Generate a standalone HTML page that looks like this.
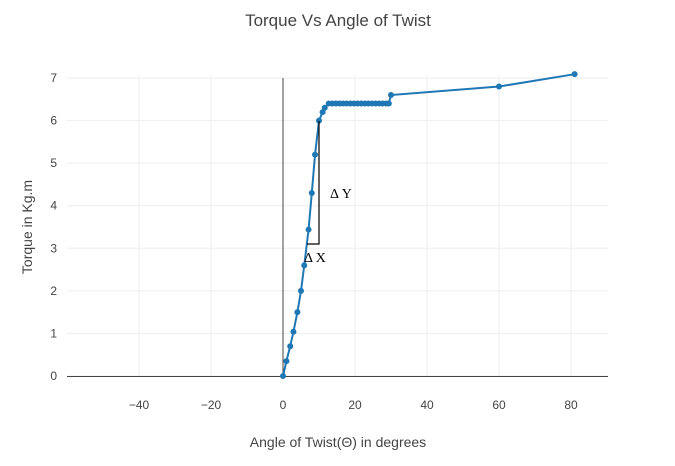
<!DOCTYPE html>
<html><head><meta charset="utf-8"><style>
body{margin:0;background:#fff;font-family:"Liberation Sans",sans-serif}
svg text{fill:#444}
</style></head><body>
<svg width="675" height="461" xmlns="http://www.w3.org/2000/svg">
<text x="338" y="26" text-anchor="middle" font-size="17">Torque Vs Angle of Twist</text>
<g id="grid"></g>
<g id="ticks" font-size="12"></g>
<line x1="283" y1="78" x2="283" y2="376" stroke="#444" stroke-width="1"/>
<line x1="67" y1="376.5" x2="608" y2="376.5" stroke="#444" stroke-width="1"/>
<defs><clipPath id="cp"><rect x="67" y="70" width="541" height="312"/></clipPath></defs>
<g id="series" clip-path="url(#cp)"></g>
<g>
<polyline points="319,121 319,244 307,244" fill="none" stroke="#000" stroke-width="1.2"/>
<text x="330" y="198" font-family="Liberation Serif,serif" font-size="14" style="fill:#000">Δ Y</text>
<text x="304" y="262" font-family="Liberation Serif,serif" font-size="14" style="fill:#000">Δ X</text>
</g>
<text x="338" y="447" text-anchor="middle" font-size="14">Angle of Twist(Θ) in degrees</text>
<text transform="translate(32,227) rotate(-90)" text-anchor="middle" font-size="14">Torque in Kg.m</text>
</svg>
<script>
const xTicks=[-40,-20,0,20,40,60,80];
const yTicks=[0,1,2,3,4,5,6,7];
const angles=[0,0.95,2,2.9,4,5,5.9,7.1,8,8.9,10,11,11.6,12.7,13.7,14.7,15.7,16.7,17.7,18.7,19.7,20.7,21.7,22.7,23.7,24.7,25.7,26.7,27.7,28.7,29.4,30,60,81];
const torques=[0,0.35,0.7,1.04,1.5,2,2.6,3.44,4.3,5.2,6,6.2,6.3,6.4,6.4,6.4,6.4,6.4,6.4,6.4,6.4,6.4,6.4,6.4,6.4,6.4,6.4,6.4,6.4,6.4,6.4,6.6,6.8,7.09];
const X=v=>283+v*3.6, Y=v=>376-v*42.57;
const NS="http://www.w3.org/2000/svg";
const grid=document.getElementById('grid'),ticks=document.getElementById('ticks'),ser=document.getElementById('series');
xTicks.forEach(t=>{
 const l=document.createElementNS(NS,'line');
 
 
 l.setAttribute('x1',X(t));l.setAttribute('x2',X(t));l.setAttribute('y1',78);l.setAttribute('y2',376);l.setAttribute('stroke','#eee');grid.appendChild(l);
 const tx=document.createElementNS(NS,'text');
 
 
 tx.setAttribute('x',X(t));tx.setAttribute('y',409);tx.setAttribute('text-anchor','middle');tx.textContent=t<0?'\u2212'+(-t):t;ticks.appendChild(tx);
});
yTicks.forEach(t=>{
 const l=document.createElementNS(NS,'line');
 
 
 l.setAttribute('x1',67);l.setAttribute('x2',608);l.setAttribute('y1',Y(t));l.setAttribute('y2',Y(t));l.setAttribute('stroke','#eee');grid.appendChild(l);
 const tx=document.createElementNS(NS,'text');
 
 
 tx.setAttribute('x',57);tx.setAttribute('y',Y(t)+4);tx.setAttribute('text-anchor','end');tx.textContent=t;ticks.appendChild(tx);
});
const pl=document.createElementNS(NS,'polyline');


pl.setAttribute('points',angles.map((a,i)=>X(a)+','+Y(torques[i])).join(' '));
pl.setAttribute('fill','none');pl.setAttribute('stroke','#1f77b4');pl.setAttribute('stroke-width','2');ser.appendChild(pl);
angles.forEach((a,i)=>{
 const c=document.createElementNS(NS,'circle');
 
 
 c.setAttribute('cx',X(a));c.setAttribute('cy',Y(torques[i]));c.setAttribute('r',3);c.setAttribute('fill','#1f77b4');ser.appendChild(c);
});
</script>
</body></html>
